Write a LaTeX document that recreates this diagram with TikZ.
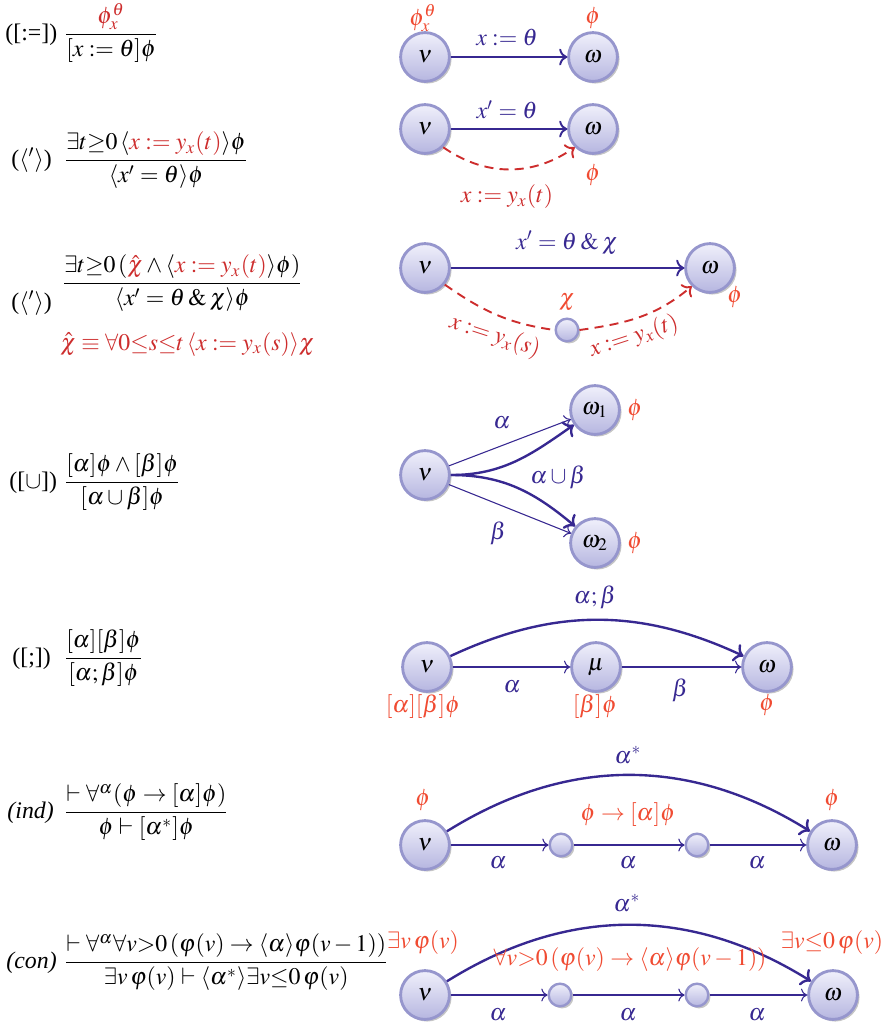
\documentclass[tikz,border=0pt]{standalone}
\usepackage{amsmath}
\usepackage{mathptmx}
\usepackage[no-math]{fontspec}
\setmainfont{Liberation Serif}
\usetikzlibrary{shadows,arrows.meta}
\definecolor{dblue}{RGB}{55,40,145}
\definecolor{fred}{RGB}{205,45,45}
\definecolor{lred}{RGB}{240,75,50}
\definecolor{nodetop}{RGB}{240,240,251}
\definecolor{nodebot}{RGB}{182,182,224}
\definecolor{nodeline}{RGB}{150,150,205}
\begin{document}
\begin{tikzpicture}[x=0.42pt,y=0.42pt,>={To},
  st/.style={circle, draw=nodeline, line width=1.2pt, minimum size=20.5pt, inner sep=0pt,
    top color=nodetop, bottom color=nodebot,
    drop shadow={shadow xshift=0.9pt, shadow yshift=-0.9pt, opacity=0.45}},
  sm/.style={st, minimum size=9.5pt, line width=1pt},
  lab/.style={text=lred, inner sep=0pt},
  el/.style={text=dblue, inner sep=0pt},
  dl/.style={text=fred, inner sep=0pt},
  rule/.style={anchor=base west, inner sep=0pt},
  mainarr/.style={draw=dblue, line width=0.8pt, ->},
  thinarr/.style={draw=dblue, line width=0.45pt, ->},
  thickarr/.style={draw=dblue, line width=1pt, ->},
  rdash/.style={draw=fred, line width=0.8pt, dash pattern=on 3.8pt off 2.6pt}]
\useasboundingbox (0,0) rectangle (887,-1028);

% ---------- left: rules ----------
\node[rule] (r1n) at (5,-40) {([:=])};
\node[rule] (r1f) at (63,-40) {$\dfrac{\textcolor{fred}{\phi_x^\theta}}{[x:=\theta]\phi}$};

\node[rule] (r2n) at (11,-166) {($\langle{}'\rangle$)};
\node[rule] (r2f) at (63,-166) {$\dfrac{\exists t{\geq}0\,\langle\textcolor{fred}{x:=y_x(t)}\rangle\phi}{\langle x'=\theta\rangle\phi}$};

\node[rule] (r3n) at (11,-309) {($\langle{}'\rangle$)};
\node[rule] (r3f) at (61,-289) {$\dfrac{\exists t{\geq}0\,(\textcolor{fred}{\hat\chi}\wedge\langle\textcolor{fred}{x:=y_x(t)}\rangle\phi)}{\langle x'=\theta\mathbin{\&}\chi\rangle\phi}$};
\node[rule,text=fred] (r3s) at (60,-350) {$\hat\chi\equiv\forall 0{\leq}s{\leq}t\,\langle x:=y_x(s)\rangle\chi$};

\node[rule] (r4n) at (9,-488) {([$\cup$])};
\node[rule] (r4f) at (63,-488) {$\dfrac{[\alpha]\phi\wedge[\beta]\phi}{[\alpha\cup\beta]\phi}$};

\node[rule] (r5n) at (12,-664) {([;])};
\node[rule] (r5f) at (63,-664) {$\dfrac{[\alpha][\beta]\phi}{[\alpha;\beta]\phi}$};

\node[rule] (r6n) at (7,-818) {\textit{(ind)}};
\node[rule] (r6f) at (63,-818) {$\dfrac{\vdash\forall^\alpha(\phi\to[\alpha]\phi)}{\phi\vdash[\alpha^*]\phi}$};

\node[rule] (r7n) at (6,-968) {\textit{(con)}};
\node[rule] (r7f) at (63,-968) {$\dfrac{\vdash\forall^\alpha\forall v{>}0\,(\varphi(v)\to\langle\alpha\rangle\varphi(v-1))}{\exists v\,\varphi(v)\vdash\langle\alpha^*\rangle\exists v{\leq}0\,\varphi(v)}$};

% ---------- row 1 ----------
\node[st] (v1) at (425,-57) {$\nu$};
\node[st] (w1) at (593,-57) {$\omega$};
\draw[mainarr] (v1) -- (w1);
\node[el] (l1) at (507,-37) {$x:=\theta$};
\node[lab] (p1a) at (423,-18) {$\phi_x^\theta$};
\node[lab] (p1b) at (593,-18) {$\phi$};

% ---------- row 2 ----------
\node[st] (v2) at (425,-129) {$\nu$};
\node[st] (w2) at (593,-129) {$\omega$};
\draw[mainarr] (v2) -- (w2);
\draw[rdash,->] (v2.-45) to[bend right=35] (w2.-135);
\node[el] (l2) at (507,-110) {$x'=\theta$};
\node[dl] (l2b) at (507,-197) {$x:=y_x(t)$};
\node[lab] (p2) at (593,-175) {$\phi$};

% ---------- row 3 ----------
\node[st] (v3) at (425,-268) {$\nu$};
\node[st] (w3) at (710,-268) {$\omega$};
\node[sm] (s3) at (567,-330) {};
\draw[mainarr] (v3) -- (w3);
\draw[rdash] (v3.-40) to[out=-35,in=172] (s3.west);
\draw[rdash,->] (s3.east) to[out=8,in=-140] (w3.-135);
\node[el] (l3) at (567,-243) {$x'=\theta\mathbin{\&}\chi$};
\node[lab] (c3) at (567,-302) {$\chi$};
\node[lab] (p3) at (735,-297) {$\phi$};
\node[dl,rotate=-18] (l3a) at (495,-336) {$x:=y_x(s)$};
\node[dl,rotate=18] (l3b) at (634,-337) {$x:=y_x(t)$};

% ---------- row 4 ----------
\node[st] (v4) at (425,-475) {$\nu$};
\node[st] (w41) at (595,-410) {$\omega_1$};
\node[st] (w42) at (595,-543) {$\omega_2$};
\draw[thinarr] (v4) -- (w41);
\draw[thinarr] (v4) -- (w42);
\draw[thickarr] (v4) to[out=0,in=215] (w41);
\draw[thickarr] (v4) to[out=0,in=140] (w42);
\node[el] (l4a) at (502,-423) {$\alpha$};
\node[el] (l4b) at (558,-477) {$\alpha\cup\beta$};
\node[el] (l4c) at (498,-533) {$\beta$};
\node[lab] (p4a) at (635,-410) {$\phi$};
\node[lab] (p4b) at (635,-543) {$\phi$};

% ---------- row 5 ----------
\node[st] (v5) at (427,-667) {$\nu$};
\node[st] (m5) at (596,-667) {$\mu$};
\node[st] (w5) at (767,-667) {$\omega$};
\draw[thinarr] (v5) -- (m5);
\draw[thinarr] (m5) -- (w5);
\draw[thickarr] (v5) to[bend left=25] (w5);
\node[el] (l5a) at (595,-597) {$\alpha;\beta$};
\node[el] (l5b) at (512,-687) {$\alpha$};
\node[el] (l5c) at (680,-690) {$\beta$};
\node[lab] (p5a) at (423,-707) {$[\alpha][\beta]\phi$};
\node[lab] (p5b) at (595,-707) {$[\beta]\phi$};
\node[lab] (p5c) at (767,-705) {$\phi$};

% ---------- row 6 ----------
\node[st] (v6) at (425,-845) {$\nu$};
\node[sm] (s61) at (561,-845) {};
\node[sm] (s62) at (697,-845) {};
\node[st] (w6) at (832,-845) {$\omega$};
\draw[thinarr] (v6) -- (s61);
\draw[thinarr] (s61) -- (s62);
\draw[thinarr] (s62) -- (w6);
\draw[thickarr] (v6) to[bend left=32] (w6);
\node[el] (l6s) at (628,-755) {$\alpha^*$};
\node[lab] (p6a) at (423,-800) {$\phi$};
\node[lab] (p6b) at (832,-800) {$\phi$};
\node[lab] (p6c) at (628,-815) {$\phi\to[\alpha]\phi$};
\node[el] (l6a) at (498,-863) {$\alpha$};
\node[el] (l6b) at (628,-863) {$\alpha$};
\node[el] (l6c) at (757,-863) {$\alpha$};

% ---------- row 7 ----------
\node[st] (v7) at (425,-995) {$\nu$};
\node[sm] (s71) at (560,-995) {};
\node[sm] (s72) at (697,-995) {};
\node[st] (w7) at (833,-995) {$\omega$};
\draw[thinarr] (v7) -- (s71);
\draw[thinarr] (s71) -- (s72);
\draw[thinarr] (s72) -- (w7);
\draw[thickarr] (v7) to[bend left=32] (w7);
\node[el] (l7s) at (627,-903) {$\alpha^*$};
\node[lab] (p7a) at (423,-943) {$\exists v\,\varphi(v)$};
\node[lab] (p7b) at (832,-943) {$\exists v{\leq}0\,\varphi(v)$};
\node[lab] (p7c) at (630,-960) {$\forall v{>}0\,(\varphi(v)\to\langle\alpha\rangle\varphi(v-1))$};
\node[el] (l7a) at (498,-1015) {$\alpha$};
\node[el] (l7b) at (628,-1015) {$\alpha$};
\node[el] (l7c) at (757,-1015) {$\alpha$};
\end{tikzpicture}
\end{document}
